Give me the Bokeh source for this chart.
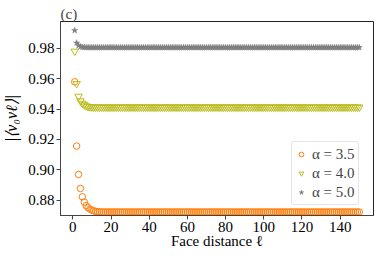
from bokeh.plotting import figure
from bokeh.models import Range1d, FixedTicker, Legend, LegendItem, ColumnDataSource
from bokeh.embed import file_html
from bokeh.resources import INLINE

# Face distance
ell = list(range(1, 151))

# alpha = 3.5 (orange circles)
head_35 = [0.9579, 0.9156, 0.8969, 0.8877, 0.8822, 0.8787, 0.8764, 0.8750,
           0.8741, 0.8734, 0.8729, 0.8726, 0.8724, 0.8723]
plateau_35 = 0.8722
v35 = head_35 + [plateau_35] * (150 - len(head_35))

# alpha = 4.0 (olive down-triangles)
head_40 = [0.9780, 0.9567, 0.9483, 0.9453, 0.9437, 0.9427, 0.9420, 0.9416,
           0.9414, 0.9413]
plateau_40 = 0.9412
v40 = head_40 + [plateau_40] * (150 - len(head_40))

# alpha = 5.0 (gray stars)
head_50 = [0.9917, 0.9835, 0.9818, 0.9810, 0.9807, 0.9806]
plateau_50 = 0.9805
v50 = head_50 + [plateau_50] * (150 - len(head_50))

labels = ["α = 3.5", "α = 4.0", "α = 5.0"]
x_ticks = [0, 20, 40, 60, 80, 100, 120, 140]
y_ticks = [0.88, 0.90, 0.92, 0.94, 0.96, 0.98]

FONT = "'Liberation Serif', serif"

p = figure(width=380, height=261, output_backend="svg", toolbar_location=None,
           x_range=Range1d(-6.45, 157.45), y_range=Range1d(0.8699, 0.9976),
           min_border_left=60, min_border_right=7, min_border_top=21, min_border_bottom=46,
           title="(c)")

p.title.text_font = FONT
p.title.text_font_size = "15px"
p.title.text_font_style = "normal"
p.title.align = "left"
p.title.offset = 0
p.title.standoff = 0

src = ColumnDataSource(dict(x=ell, a=v35, b=v40, c=v50))
r1 = p.scatter("x", "a", source=src, marker="circle", size=6.5, fill_color=None,
               line_color="#ff7f0e", line_width=1)
r2 = p.scatter("x", "b", source=src, marker="inverted_triangle", size=7.5, fill_color=None,
               line_color="#bcbd22", line_width=1)
r3 = p.scatter("x", "c", source=src, marker="star", size=6.5, fill_color="#7f7f7f",
               line_color="#7f7f7f", line_width=0.5)

p.xgrid.visible = False
p.ygrid.visible = False
p.outline_line_color = "#222222"
p.outline_line_width = 1

p.axis.major_label_text_font = FONT
p.axis.major_label_text_font_size = "15px"
p.axis.major_label_text_font_style = "normal"
p.axis.major_label_text_color = "black"
p.axis.axis_label_text_font = FONT
p.axis.axis_label_text_font_size = "15px"
p.axis.axis_label_text_font_style = "normal"
p.axis.axis_label_text_color = "black"
p.axis.minor_tick_line_color = None
p.axis.major_tick_in = 0
p.axis.major_tick_out = 4
p.axis.axis_line_color = "#444444"
p.axis.major_tick_line_color = "#444444"

p.xaxis.ticker = FixedTicker(ticks=x_ticks)
p.yaxis.ticker = FixedTicker(ticks=y_ticks)
p.yaxis.major_label_overrides = {t: f"{t:.2f}" for t in y_ticks}
p.xaxis.axis_label = "Face distance ℓ"
p.xaxis.axis_label_standoff = -2
p.yaxis.axis_label = "|⟨v₀vℓ⟩|"
p.yaxis.axis_label_text_font_style = "italic"
p.yaxis.axis_label_text_font_size = "16px"
p.yaxis.axis_label_standoff = 5
p.yaxis.major_label_standoff = 2
p.xaxis.major_label_standoff = 2

legend = Legend(items=[LegendItem(label=labels[0], renderers=[r1]),
                       LegendItem(label=labels[1], renderers=[r2]),
                       LegendItem(label=labels[2], renderers=[r3])],
                location=(231, 10))
legend.label_text_font = FONT
legend.label_text_font_size = "15px"
legend.label_height = 18
legend.glyph_height = 18
legend.glyph_width = 12
legend.label_standoff = 5
legend.spacing = 1
legend.padding = 3
legend.margin = 0
legend.border_line_color = "#cccccc"
legend.border_radius = 3
legend.background_fill_alpha = 0.8
p.add_layout(legend)

open("out.html", "w").write(file_html(p, INLINE))
